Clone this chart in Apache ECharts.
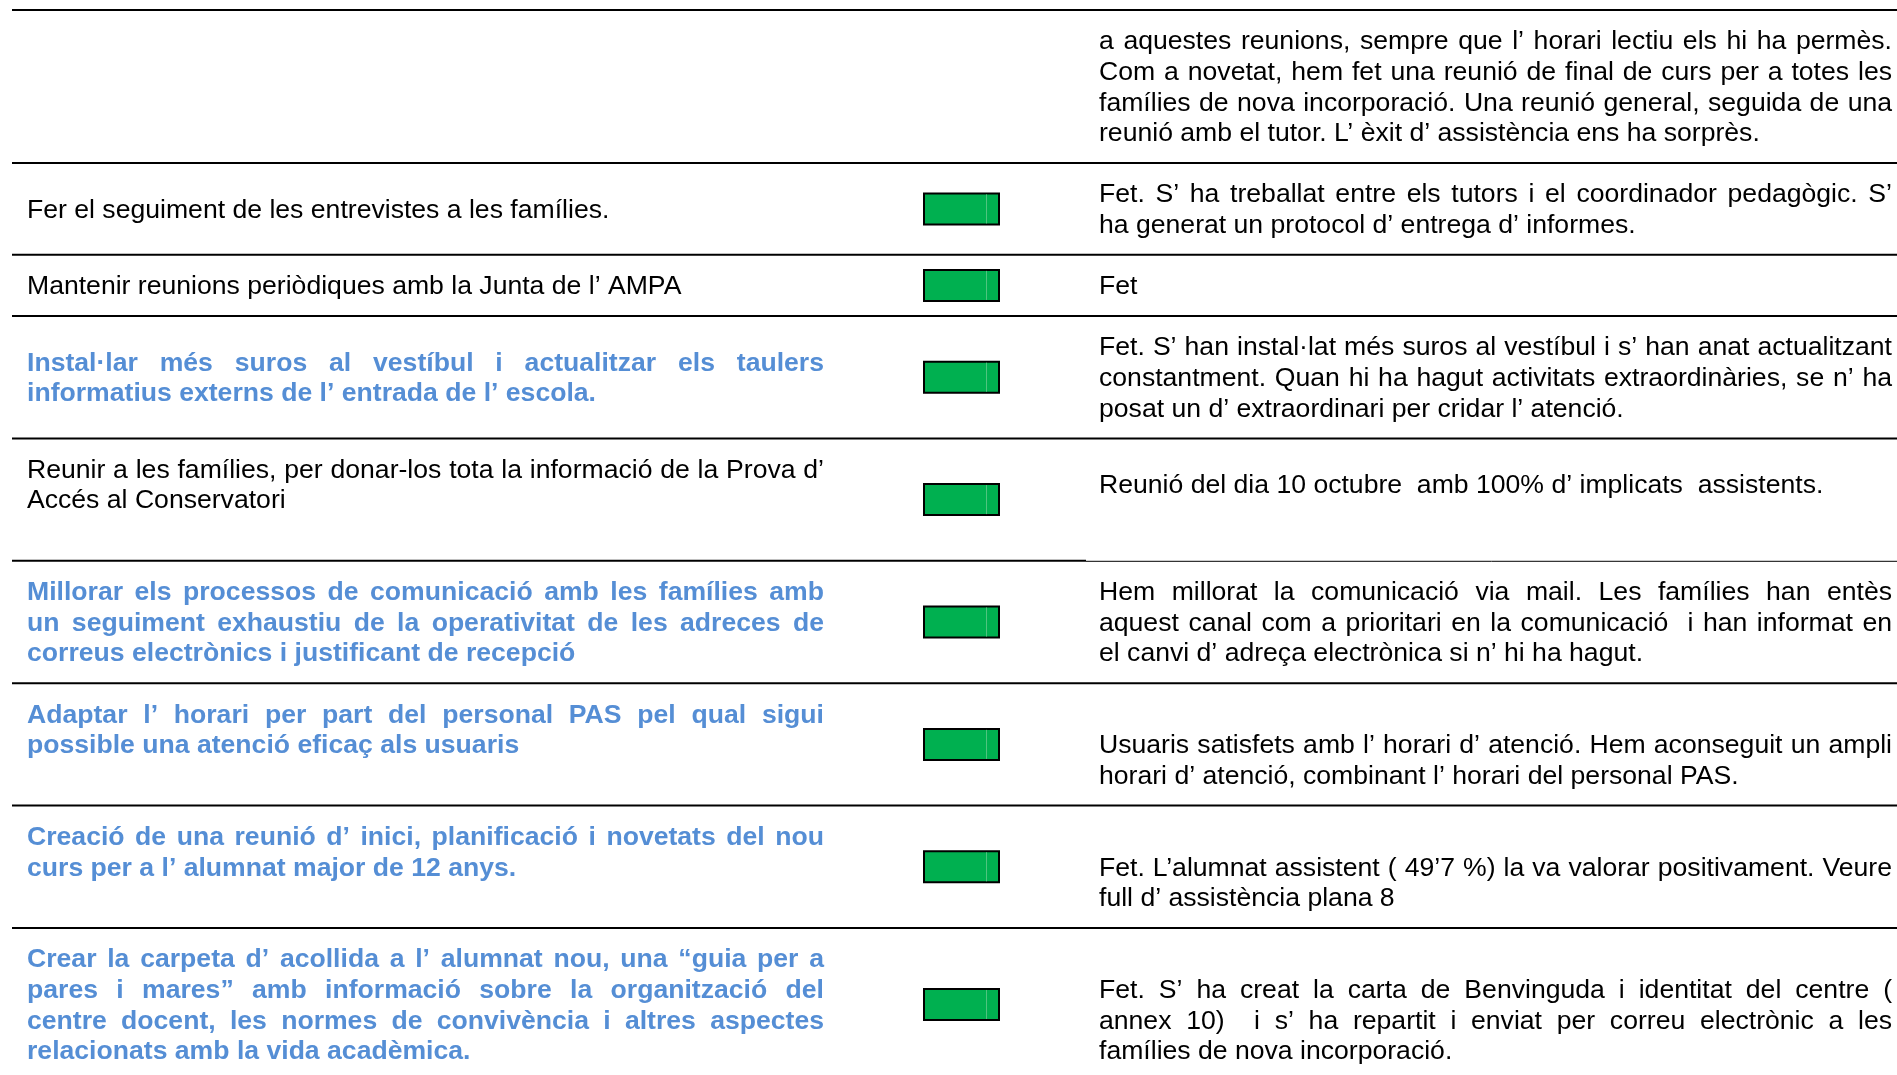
<!DOCTYPE html>
<html>
<head>
<meta charset="utf-8">
<script src="https://cdn.jsdelivr.net/npm/echarts@6/dist/echarts.min.js"></script>
<style>
html,body{margin:0;padding:0;background:#ffffff;}
#chart{width:1897px;height:1075px;}
</style>
</head>
<body>
<div id="chart"></div>
<script>
// ---------------- DATA ----------------
// Objective (left column) per row; "\n" = line break as in the document, "" lines = empty paragraphs
const objectives = [
  '',
  'Fer el seguiment de les entrevistes a les famílies.',
  'Mantenir reunions periòdiques amb la Junta de l’ AMPA',
  'Instal·lar més suros al vestíbul i actualitzar els taulers\ninformatius externs de l’ entrada de l’ escola.',
  'Reunir a les famílies, per donar-los tota la informació de la Prova d’\nAccés al Conservatori\n',
  'Millorar els processos de comunicació amb les famílies amb\nun seguiment exhaustiu de la operativitat de les adreces de\ncorreus electrònics i justificant de recepció',
  'Adaptar l’ horari per part del personal PAS pel qual sigui\npossible una atenció eficaç als usuaris\n',
  'Creació de una reunió d’ inici, planificació i novetats del nou\ncurs per a l’ alumnat major de 12 anys.\n',
  'Crear la carpeta d’ acollida a l’ alumnat nou, una “guia per a\npares i mares” amb informació sobre la organització del\ncentre docent, les normes de convivència i altres aspectes\nrelacionats amb la vida acadèmica.'
];
// Result / evaluation (right column)
const results = [
  'a aquestes reunions, sempre que l’ horari lectiu els hi ha permès.\nCom a novetat, hem fet una reunió de final de curs per a totes les\nfamílies de nova incorporació. Una reunió general, seguida de una\nreunió amb el tutor. L’ èxit d’ assistència ens ha sorprès.',
  'Fet. S’ ha treballat entre els tutors i el coordinador pedagògic. S’\nha generat un protocol d’ entrega d’ informes.',
  'Fet',
  'Fet. S’ han instal·lat més suros al vestíbul i s’ han anat actualitzant\nconstantment. Quan hi ha hagut activitats extraordinàries, se n’ ha\nposat un d’ extraordinari per cridar l’ atenció.',
  'Reunió del dia 10 octubre  amb 100% d’ implicats  assistents.\n',
  'Hem millorat la comunicació via mail. Les famílies han entès\naquest canal com a prioritari en la comunicació  i han informat en\nel canvi d’ adreça electrònica si n’ hi ha hagut.',
  '\nUsuaris satisfets amb l’ horari d’ atenció. Hem aconseguit un ampli\nhorari d’ atenció, combinant l’ horari del personal PAS.',
  '\nFet. L’alumnat assistent ( 49’7 %) la va valorar positivament. Veure\nfull d’ assistència plana 8',
  '\nFet. S’ ha creat la carta de Benvinguda i identitat del centre (\nannex 10)  i s’ ha repartit i enviat per correu electrònic a les\nfamílies de nova incorporació.'
];
// Status indicator: 1 = achieved (green), 0 = no indicator
const status = [0, 1, 1, 1, 1, 1, 1, 1, 1];
// Objectives newly added this year (shown highlighted)
const isNew = [false, false, false, true, false, true, true, true, true];
// Row heights, in text lines
const rowLines = [5, 3, 2, 4, 4, 4, 4, 4, 5];

// ---------------- LAYOUT / STYLE ----------------
const W = 1897, H = 1075;
const TOP = 10;          // table top (px)
const UNIT = 30.6;       // one text line (px)
const COL = { rule0: 12, left0: 27, left1: 824, box0: 923, box1: 1000, boxStripe: 986, right0: 1099, right1: 1892 };
const BOX_H = 1.08;      // box height in line units
const V_OFF = 1.5;       // vertical fine tune (px)
const FAMILY = '"Liberation Sans", Arial, Helvetica, sans-serif';
const FSIZE = 26.6;
const FONT_REG = 'normal ' + FSIZE + 'px ' + FAMILY;
const FONT_BOLD = 'bold ' + FSIZE + 'px ' + FAMILY;
const BLUE = '#558ED5', BLACK = '#000000', GREEN = '#00B050';
const THIN_BREAK = { row: 5, x: 1086 };  // top rule of this row turns thin after x

const rowStart = [];
rowLines.reduce((acc, n, i) => { rowStart[i] = acc; return acc + n; }, 0);

const mctx = document.createElement('canvas').getContext('2d');
function tw(t, font) { mctx.font = font; return mctx.measureText(t).width; }

function cellTexts(text, x0, x1, centerY, unitPx, font, fill) {
  const lines = text.split('\n');
  const n = lines.length;
  const els = [];
  lines.forEach((line, k) => {
    if (!line) return;
    const y = centerY + (k - (n - 1) / 2) * unitPx + V_OFF;
    const justify = k < n - 1 && lines[k + 1] !== '';
    if (!justify) {
      els.push({ type: 'text', silent: true, style: { text: line, x: x0, y: y, font: font, fill: fill, align: 'left', verticalAlign: 'middle' } });
      return;
    }
    const tokens = line.split(' ');
    const widths = tokens.map(t => tw(t, font));
    const total = widths.reduce((a, b) => a + b, 0);
    const gap = (x1 - x0 - total) / (tokens.length - 1);
    let x = x0;
    tokens.forEach((t, j) => {
      if (t) els.push({ type: 'text', silent: true, style: { text: t, x: x, y: y, font: font, fill: fill, align: 'left', verticalAlign: 'middle' } });
      x += widths[j] + gap;
    });
  });
  return els;
}

const chart = echarts.init(document.getElementById('chart'), null, { renderer: 'canvas' });

const data = rowLines.map((n, i) => [i, rowStart[i], n]);

function renderItem(params, api) {
  const i = api.value(0);
  const start = api.value(1);
  const n = api.value(2);
  const X = v => api.coord([v, start])[0];
  const topY = api.coord([0, start])[1];
  const botY = api.coord([0, start + n])[1];
  const cY = api.coord([0, start + n / 2])[1];
  const unitPx = api.size([0, 1])[1];
  const children = [];
  // top rule
  if (THIN_BREAK.row === i) {
    children.push({ type: 'line', silent: true, shape: { x1: X(COL.rule0), y1: topY, x2: X(THIN_BREAK.x), y2: topY }, style: { stroke: BLACK, lineWidth: 2 } });
    children.push({ type: 'line', silent: true, shape: { x1: X(THIN_BREAK.x), y1: topY + 0.5, x2: X(W), y2: topY + 0.5 }, style: { stroke: BLACK, lineWidth: 1 } });
  } else {
    children.push({ type: 'line', silent: true, shape: { x1: X(COL.rule0), y1: topY, x2: X(W), y2: topY }, style: { stroke: BLACK, lineWidth: 2 } });
  }
  if (i === rowLines.length - 1) {
    children.push({ type: 'line', silent: true, shape: { x1: X(COL.rule0), y1: botY, x2: X(W), y2: botY }, style: { stroke: BLACK, lineWidth: 2 } });
  }
  // objective
  const f = isNew[i] ? FONT_BOLD : FONT_REG;
  const c = isNew[i] ? BLUE : BLACK;
  children.push(...cellTexts(objectives[i], X(COL.left0), X(COL.left1), cY, unitPx, f, c));
  // status box
  if (status[i]) {
    const h = BOX_H * unitPx;
    const bx0 = X(COL.box0), bx1 = X(COL.box1);
    children.push({ type: 'rect', silent: true, shape: { x: bx0 + 1, y: cY - h / 2 + 1, width: bx1 - bx0 - 2, height: h - 2 }, style: { fill: GREEN, stroke: BLACK, lineWidth: 2 } });
    children.push({ type: 'line', silent: true, shape: { x1: X(COL.boxStripe) + 0.5, y1: cY - h / 2 + 2, x2: X(COL.boxStripe) + 0.5, y2: cY + h / 2 - 2 }, style: { stroke: '#4FC47F', lineWidth: 1 } });
  }
  // result
  children.push(...cellTexts(results[i], X(COL.right0), X(COL.right1), cY, unitPx, FONT_REG, BLACK));
  return { type: 'group', children: children };
}

chart.setOption({
  animation: false,
  backgroundColor: '#ffffff',
  grid: { left: 0, right: 0, top: TOP, bottom: 0 },
  xAxis: { type: 'value', min: 0, max: W, show: false },
  yAxis: { type: 'value', min: 0, max: (H - TOP) / UNIT, inverse: true, show: false },
  series: [{
    type: 'custom',
    clip: false,
    silent: true,
    renderItem: renderItem,
    encode: { x: 0, y: 1 },
    data: data
  }]
});
</script>
</body>
</html>
